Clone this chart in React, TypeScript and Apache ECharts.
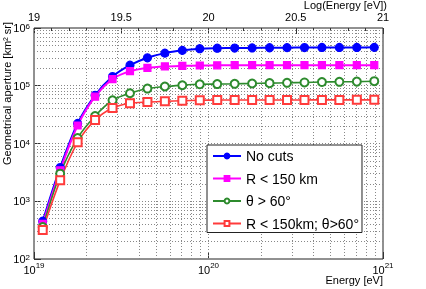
import React, { useEffect, useRef } from "react";
import * as echarts from "echarts";

// log10(Energy [eV]) of each point
const logE = [19.05, 19.15, 19.25, 19.35, 19.45, 19.55, 19.65, 19.75, 19.85, 19.95,
  20.05, 20.15, 20.25, 20.35, 20.45, 20.55, 20.65, 20.75, 20.85, 20.95];

const noCuts = [452, 3830, 22300, 68400, 144000, 227000, 305000, 367000, 410000, 438000,
  447000, 450000, 452000, 455000, 457000, 459000, 460000, 461000, 461000, 462000];
const rCut = [405, 3430, 20500, 64700, 130000, 179000, 204000, 216000, 221000, 224000,
  226000, 227000, 227000, 227000, 227000, 227000, 227000, 227000, 227000, 227000];
const thetaCut = [356, 3000, 12400, 29900, 56000, 74100, 89400, 97000, 102000, 106000,
  107000, 108000, 109500, 111000, 112500, 114000, 116000, 117000, 118000, 120000];
const bothCuts = [319, 2300, 10500, 25400, 41100, 49700, 52300, 53700, 55000, 56000,
  56500, 56600, 56700, 56700, 56800, 56800, 56900, 56900, 57000, 57000];

const seriesNames = ["No cuts", "R < 150 km", "θ > 60°", "R < 150km; θ>60°"];
const topTicks = [19, 19.5, 20, 20.5, 21];

const FONT = "'Liberation Sans', Arial, Helvetica, sans-serif";

export default function App() {
  const ref = useRef<HTMLDivElement>(null);
  useEffect(() => {
    if (!ref.current) return;
    const chart = echarts.init(ref.current, undefined, { renderer: "svg" });

    const xGrid: number[] = [];
    for (let d = 19; d <= 20; d++) for (let k = 1; k <= 9; k++) {
      const v = k * Math.pow(10, d);
      if (v > 1e19 && v < 1e21) xGrid.push(v);
    }
    const yGrid: number[] = [];
    for (let d = 2; d <= 5; d++) for (let k = 1; k <= 9; k++) {
      const v = k * Math.pow(10, d);
      if (v > 100 && v < 1e6) yGrid.push(v);
    }

    const pow10 = (v: number) => `{b|10}{s|${Math.round(Math.log10(v))}}`;
    const richX = {
      b: { fontSize: 11, fontFamily: FONT, color: "#000", verticalAlign: "bottom", lineHeight: 14 },
      s: { fontSize: 8, fontFamily: FONT, color: "#000", verticalAlign: "top", lineHeight: 9 },
    };
    const richY = {
      b: { fontSize: 11, fontFamily: FONT, color: "#000", verticalAlign: "bottom", lineHeight: 11 },
      s: { fontSize: 8, fontFamily: FONT, color: "#000", verticalAlign: "top", lineHeight: 7 },
    };

    const mk = (name: string, vals: number[], color: string, symbol: string, size: number, width: number) => ({
      name,
      type: "line",
      xAxisIndex: 1,
      yAxisIndex: 0,
      data: logE.map((e, i) => [e, vals[i]]),
      symbol,
      symbolSize: size,
      showSymbol: true,
      smooth: 0.3,
      lineStyle: { color, width },
      itemStyle: { color, borderColor: color, borderWidth: 1.2 },
      z: 5,
    });

    chart.setOption({
      animation: false,
      grid: {
        left: 34, top: 28, width: 349, height: 231,
        show: true, borderColor: "#222", borderWidth: 1, backgroundColor: "transparent",
      },
      xAxis: [
        {
          type: "log", logBase: 10, min: 1e19, max: 1e21, position: "bottom",
          axisLine: { show: false },
          axisTick: { show: true, inside: true, length: 7, lineStyle: { color: "#333" } },
          splitLine: { show: false },
          axisLabel: { margin: 2, formatter: pow10, rich: richX },
        },
        {
          type: "value", min: 19, max: 21, interval: 0.5, position: "top",
          axisLine: { show: false },
          axisTick: { show: true, inside: true, length: 6, lineStyle: { color: "#333" } },
          minorTick: { show: true, splitNumber: 5, length: 3, lineStyle: { color: "#333" } },
          splitLine: { show: false },
          axisLabel: {
            margin: 5, fontSize: 11, lineHeight: 12, fontFamily: FONT, color: "#000",
            formatter: (v: number) => (topTicks.includes(v) ? String(v) : ""),
          },
        },
      ],
      yAxis: [
        {
          type: "log", logBase: 10, min: 100, max: 1e6,
          axisLine: { show: false },
          axisTick: { show: true, inside: true, length: 7, lineStyle: { color: "#333" } },
          splitLine: { show: false },
          axisLabel: { margin: 4, formatter: pow10, rich: richY },
        },
      ],
      legend: {
        left: 207, top: 145,
        orient: "vertical",
        data: seriesNames,
        selectedMode: false,
        itemWidth: 28, itemHeight: 6, itemGap: 8.5,
        padding: [4, 3, 2, 5],
        borderColor: "#222", borderWidth: 1, backgroundColor: "#fff",
        textStyle: { fontSize: 14, fontFamily: FONT, color: "#000" },
        z: 10,
      },
      graphic: [
        {
          type: "text", x: 7, y: 22, rotation: Math.PI / 2,
          style: { text: "Geometrical aperture [km² sr]", font: `11px ${FONT}`, align: "right", verticalAlign: "middle", fill: "#000" },
        },
        {
          type: "text", x: 383, y: 280,
          style: { text: "Energy [eV]", font: `11px ${FONT}`, align: "right", verticalAlign: "middle", fill: "#000" },
        },
        {
          type: "text", x: 387, y: 5,
          style: { text: "Log(Energy [eV])", font: `11px ${FONT}`, align: "right", verticalAlign: "middle", fill: "#000" },
        },
      ],
      series: [
        {
          name: "grid",
          type: "line",
          xAxisIndex: 0,
          yAxisIndex: 0,
          data: [],
          symbol: "none",
          silent: true,
          z: 1,
          markLine: {
            silent: true,
            symbol: ["none", "none"],
            label: { show: false },
            lineStyle: { type: [1, 2], color: "#888", width: 1 },
            data: [
              ...xGrid.map((v) => ({ xAxis: v })),
              ...yGrid.map((v) => ({ yAxis: v })),
            ],
          },
        },
        mk(seriesNames[0], noCuts, "#0000ff", "circle", 8, 2),
        mk(seriesNames[1], rCut, "#ff00ff", "rect", 7, 2),
        mk(seriesNames[2], thetaCut, "#2e8b2e", "emptyCircle", 8, 1.6),
        mk(seriesNames[3], bothCuts, "#ff3b3b", "emptyRect", 8, 1.6),
      ],
    });
    return () => chart.dispose();
  }, []);
  return <div ref={ref} style={{ position: "fixed", left: 0, top: 0, width: 426, height: 289 }} />;
}
